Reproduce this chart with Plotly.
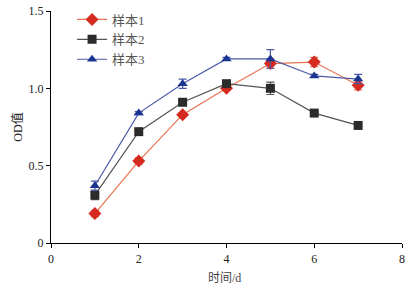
import plotly.graph_objects as go

days = [1, 2, 3, 4, 5, 6, 7]
s1 = [0.19, 0.53, 0.83, 1.00, 1.16, 1.17, 1.02]
s1_err = [0.02, 0.02, 0.01, 0.01, 0.03, 0.03, 0.03]
s2 = [0.31, 0.72, 0.91, 1.03, 1.00, 0.84, 0.76]
s2_err = [0.03, 0.02, 0.01, 0.02, 0.04, 0.01, 0.01]
s3 = [0.37, 0.84, 1.03, 1.19, 1.19, 1.08, 1.06]
s3_err = [0.03, 0.01, 0.03, 0.01, 0.06, 0.01, 0.03]
names = ["样本1", "样本2", "样本3"]

FONT = "Liberation Serif, Noto Sans CJK SC"

fig = go.Figure()
series = [
    (s1, s1_err, names[0], "#e8734f", "#d42a20", "diamond", 10),
    (s2, s2_err, names[1], "#555555", "#2b2b2b", "square", 9),
    (s3, s3_err, names[2], "#4d5aa8", "#1a3590", "triangle-up", 9),
]
for y, e, n, lc, mc, sym, ms in series:
    fig.add_trace(go.Scatter(
        x=days, y=y, name=n, mode="lines+markers",
        line=dict(color=lc, width=1.2),
        marker=dict(symbol=sym, size=ms, color=mc),
        error_y=dict(type="data", array=e, visible=True, color=lc, thickness=1.2, width=4),
    ))

fig.update_layout(
    width=413, height=290,
    margin=dict(l=51, r=11, t=11, b=47, autoexpand=False),
    paper_bgcolor="white", plot_bgcolor="white",
    font=dict(family=FONT, size=12, color="#222"),
    showlegend=True,
    legend=dict(x=0.06, y=1.028, xanchor="left", yanchor="top",
                bgcolor="rgba(0,0,0,0)", font=dict(size=13, color="#555"),
                itemwidth=30, tracegroupgap=2),
    xaxis=dict(range=[0, 8], tickvals=[0, 2, 4, 6, 8], showline=True, linecolor="#000",
               linewidth=1.2, ticks="outside", ticklen=4, tickcolor="#000", showgrid=False,
               zeroline=False, automargin=False),
    yaxis=dict(range=[0, 1.5], tickvals=[0, 0.5, 1.0, 1.5], ticktext=["0", "0.5", "1.0", "1.5"],
               showline=True, linecolor="#000", linewidth=1.2, ticks="outside", ticklen=4,
               tickcolor="#000", showgrid=False, zeroline=False, automargin=False),
    annotations=[
        dict(text="时间/d", xref="paper", yref="paper", x=0.495, y=-0.11, yanchor="top",
             showarrow=False, font=dict(size=12, color="#444")),
        dict(text="OD值", xref="paper", yref="paper", x=-0.125, y=0.5, textangle=-90,
             showarrow=False, font=dict(size=12, color="#222")),
    ],
)

fig.write_html("out.html", config={"displayModeBar": False},
               post_script="document.body.style.margin='0';document.body.style.overflow='hidden';")
